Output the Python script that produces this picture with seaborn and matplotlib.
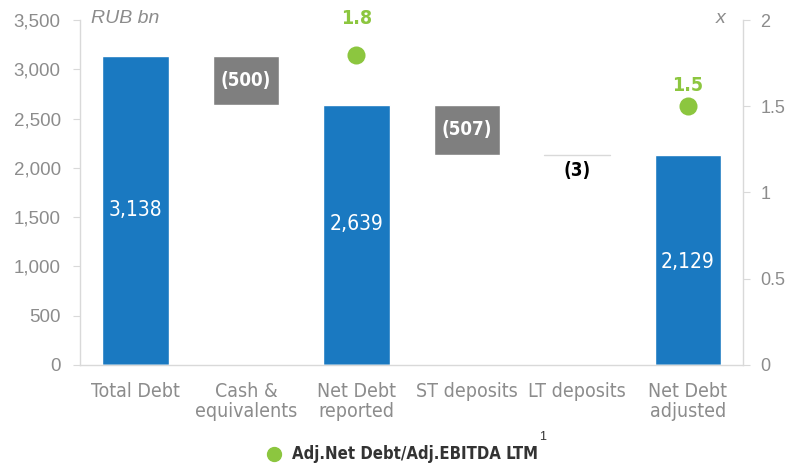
import matplotlib
matplotlib.use("Agg")
import matplotlib.pyplot as plt
import numpy as np
import pandas as pd
import seaborn as sns

categories = ["Total Debt", "Cash &\nequivalents", "Net Debt\nreported",
              "ST deposits", "LT deposits", "Net Debt\nadjusted"]
changes = [3138, -500, 2639, -507, -3, 2129]
kinds = ["total", "delta", "total", "delta", "delta", "total"]
bar_labels = ["3,138", "(500)", "2,639", "(507)", "(3)", "2,129"]
ratio_cats = ["Net Debt\nreported", "Net Debt\nadjusted"]
ratio_values = [1.8, 1.5]

BLUE = "#1a79c1"
GREY = "#7f7f7f"
GREEN = "#8cc63f"
AXIS = "#d9d9d9"
TEXT = "#8c8c8c"
NARROW = dict(family=["DejaVu Sans"], stretch="condensed")

sns.set_style("white")
plt.rcParams["font.family"] = ["Liberation Sans", "DejaVu Sans"]

# waterfall geometry
bottoms, tops, colors = [], [], []
level = 0
for val, kind in zip(changes, kinds):
    if kind == "total":
        bottoms.append(0)
        tops.append(val)
        colors.append(BLUE)
        level = val
    else:
        tops.append(level)
        level = level + val
        bottoms.append(level)
        colors.append(GREY if abs(val) > 10 else "white")

df = pd.DataFrame({"cat": categories, "top": tops, "bottom": bottoms})

fig = plt.figure(figsize=(7.87, 4.66), dpi=100)
ax = fig.add_axes([0.102, 0.217, 0.842, 0.74])

sns.barplot(data=df, x="cat", y="top", order=categories, palette=colors,
            hue="cat", legend=False, width=0.6, saturation=1, ax=ax)
# mask the lower part of the floating bars
sns.barplot(data=df, x="cat", y="bottom", order=categories, color="white",
            width=0.62, saturation=1, ax=ax)

# thin LT deposits bar is shown as a light line
ax.plot([3.7, 4.3], [tops[4], tops[4]], color=AXIS, lw=1)

for i, (b, t, lab, kind) in enumerate(zip(bottoms, tops, bar_labels, kinds)):
    h = t - b
    if kind == "total":
        ypos = {0: 0.5, 2: 0.54, 5: 0.49}[i] * h
        ax.text(i, ypos, lab, ha="center", va="center", color="white",
                fontsize=15, **NARROW)
    elif h > 10:
        ax.text(i, b + h / 2, lab, ha="center", va="center", color="white",
                fontsize=13.5, fontweight="bold", **NARROW)
    else:
        ax.text(i, b - 160, lab, ha="center", va="center", color="black",
                fontsize=13.5, fontweight="bold", **NARROW)

ax.set_ylim(0, 3500)
ax.set_yticks(np.arange(0, 3501, 500))
ax.set_yticklabels([f"{v:,}" for v in range(0, 3501, 500)])

ax2 = ax.twinx()
sns.stripplot(x=ratio_cats, y=ratio_values, order=categories, jitter=False,
              size=13, color=GREEN, ax=ax2)
label_offsets = [0.21, 0.12]
for c, v, off in zip(ratio_cats, ratio_values, label_offsets):
    ax2.text(categories.index(c), v + off, f"{v}", ha="center", va="center",
             color=GREEN, fontsize=14, fontweight="bold", **NARROW)
ax2.set_ylim(0, 2)
ax2.set_yticks([0, 0.5, 1, 1.5, 2])
ax2.set_yticklabels(["0", "0.5", "1", "1.5", "2"])

ax.set_xlim(-0.5, 5.5)
ax.set_xticks(range(6))
ax.set_xticklabels(categories, fontsize=14, color=TEXT, linespacing=1.1,
                   **NARROW)
ax.set_xticks(np.arange(-0.5, 5.6, 1), minor=True)
ax.tick_params(axis="x", which="major", length=0, pad=12)
ax.tick_params(axis="x", which="minor", length=6, color=AXIS, width=1)
ax.tick_params(axis="y", length=5, color=AXIS, labelsize=13.5,
               labelcolor=TEXT, pad=9)
ax2.tick_params(axis="y", length=5, color=AXIS, labelsize=13,
                labelcolor=TEXT, pad=7.5)
ax.set_xlabel("")
ax.set_ylabel("")
ax2.set_ylabel("")

for a in (ax, ax2):
    a.spines["top"].set_visible(False)
    for s in ("left", "right", "bottom"):
        a.spines[s].set_color(AXIS)
        a.spines[s].set_linewidth(1)
ax.spines["right"].set_visible(False)
ax2.spines["left"].set_visible(False)
ax2.spines["bottom"].set_visible(False)

fig.text(0.115, 0.961, "RUB bn", fontsize=14, style="italic", color=TEXT,
         va="center")
fig.text(0.91, 0.961, "x", fontsize=14, style="italic", color=TEXT,
         va="center")

# legend
fig.legend(handles=[plt.Line2D([], [], marker="o", color=GREEN, linestyle="",
                               markersize=10)],
           labels=["Adj.Net Debt/Adj.EBITDA LTM"], loc="center",
           bbox_to_anchor=(0.505, 0.025), frameon=False, handletextpad=0.1,
           prop={"family": ["DejaVu Sans"], "stretch": "condensed",
                 "size": 12, "weight": "semibold"},
           labelcolor="#333333")
fig.text(0.69, 0.062, "1", fontsize=9, color="#333333", ha="center",
         va="center")

fig.savefig("out.png", dpi=100)
